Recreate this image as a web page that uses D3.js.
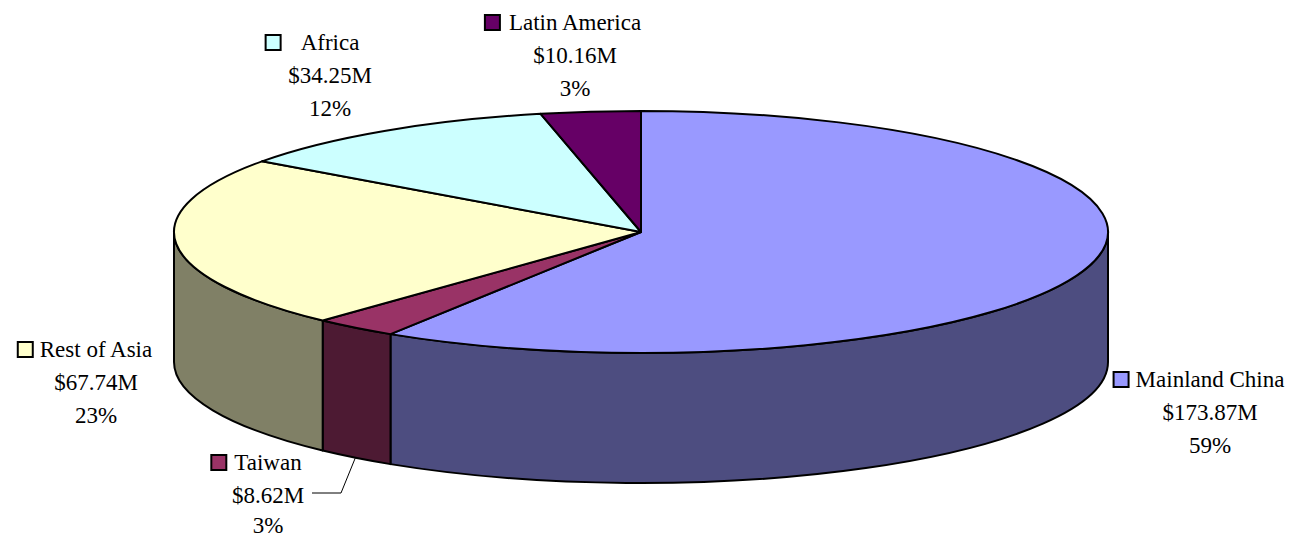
<!DOCTYPE html>
<html>
<head>
<meta charset="utf-8">
<script src="https://cdn.jsdelivr.net/npm/d3@7"></script>
<style>
  html, body { margin: 0; padding: 0; background: #fff; }
</style>
</head>
<body>
<div id="chart"></div>
<script>
// data
const regions = ['Mainland China', 'Taiwan', 'Rest of Asia', 'Africa', 'Latin America'];
const amounts = [173.87, 8.62, 67.74, 34.25, 10.16];
const percentLabels = ['59%', '3%', '23%', '12%', '3%'];

const topColors = ['#9999ff', '#993366', '#ffffcc', '#ccffff', '#660066'];

// where each data label sits: centre x, first baseline, gap between key and name
const labelLayout = {
	'Mainland China': { x: 1210, y: 387, gap: 6 },
	'Taiwan': { x: 268, y: 470, gap: 7 },
	'Rest of Asia': { x: 96, y: 357, gap: 6 },
	'Africa': { x: 330, y: 50, gap: 19 },
	'Latin America': { x: 575, y: 30, gap: 8 }
};

const W = 1294;
const H = 539;
const cx = 641;
const cy = 232;
const rx = 467;
const ry = 121;
const depth = 130;
const lineGap = 33;
const FONT = "'Liberation Serif', 'Times New Roman', 'DejaVu Serif', serif";

const svg = d3.select('#chart').append('svg')
	.attr('width', W)
	.attr('height', H)
	.style('display', 'block');

const pie = d3.pie().sort(null).value((d) => d.value).startAngle(0).endAngle(2 * Math.PI);
const slices = pie(regions.map((r, i) => ({ name: r, value: amounts[i], color: topColors[i], pct: percentLabels[i] })));

const pt = (a, dy = 0) => [cx + rx * Math.sin(a), cy - ry * Math.cos(a) + dy];
const sideColor = (c) => {
	const k = d3.rgb(c);
	return d3.rgb(k.r * 0.5, k.g * 0.5, k.b * 0.5).formatHex();
};

// outer walls, only the front half (angles between 90 and 270 deg)
const lo = Math.PI / 2;
const hi = 3 * Math.PI / 2;
const walls = svg.append('g');
slices.forEach((s) => {
	const a0 = Math.max(s.startAngle, lo);
	const a1 = Math.min(s.endAngle, hi);
	if (a1 <= a0) return;
	const p0 = pt(a0), p1 = pt(a1), q0 = pt(a0, depth), q1 = pt(a1, depth);
	const d = `M${p0}A${rx},${ry} 0 0 1 ${p1}L${q1}A${rx},${ry} 0 0 0 ${q0}Z`;
	walls.append('path')
		.attr('d', d)
		.attr('fill', sideColor(s.data.color))
		.attr('stroke', '#000')
		.attr('stroke-width', 2)
		.attr('stroke-linejoin', 'round');
});

// top faces
const tops = svg.append('g');
slices.forEach((s) => {
	const p0 = pt(s.startAngle), p1 = pt(s.endAngle);
	const large = s.endAngle - s.startAngle > Math.PI ? 1 : 0;
	tops.append('path')
		.attr('d', `M${cx},${cy}L${p0}A${rx},${ry} 0 ${large} 1 ${p1}Z`)
		.attr('fill', s.data.color)
		.attr('stroke', '#000')
		.attr('stroke-width', 2)
		.attr('stroke-linejoin', 'round');
});

// leader line for Taiwan
const tw = slices[1];
const twMid = pt((tw.startAngle + tw.endAngle) / 2, depth);
svg.append('polyline')
	.attr('points', [twMid, [341, 493], [312, 493]].map((p) => p.join(',')).join(' '))
	.attr('fill', 'none')
	.attr('stroke', '#000')
	.attr('stroke-width', 1);

// data labels
const labels = svg.append('g')
	.attr('font-family', FONT)
	.attr('font-size', 23)
	.attr('fill', '#000');
slices.forEach((s) => {
	const L = labelLayout[s.data.name];
	const g = labels.append('g');
	const name = g.append('text')
		.attr('x', L.x)
		.attr('y', L.y)
		.attr('text-anchor', 'middle')
		.text(s.data.name);
	g.append('text')
		.attr('x', L.x)
		.attr('y', L.y + lineGap)
		.attr('text-anchor', 'middle')
		.text('$' + d3.format('.2f')(s.data.value) + 'M');
	g.append('text')
		.attr('x', L.x)
		.attr('y', Math.min(L.y + lineGap * 2, 533))
		.attr('text-anchor', 'middle')
		.text(s.data.pct);
	const w = name.node().getComputedTextLength();
	const left = L.x - w / 2;
	g.append('rect')
		.attr('x', left - L.gap - 16)
		.attr('y', L.y - 15)
		.attr('width', 15)
		.attr('height', 15)
		.attr('fill', s.data.color)
		.attr('stroke', '#000')
		.attr('stroke-width', 2);
});
</script>
</body>
</html>
